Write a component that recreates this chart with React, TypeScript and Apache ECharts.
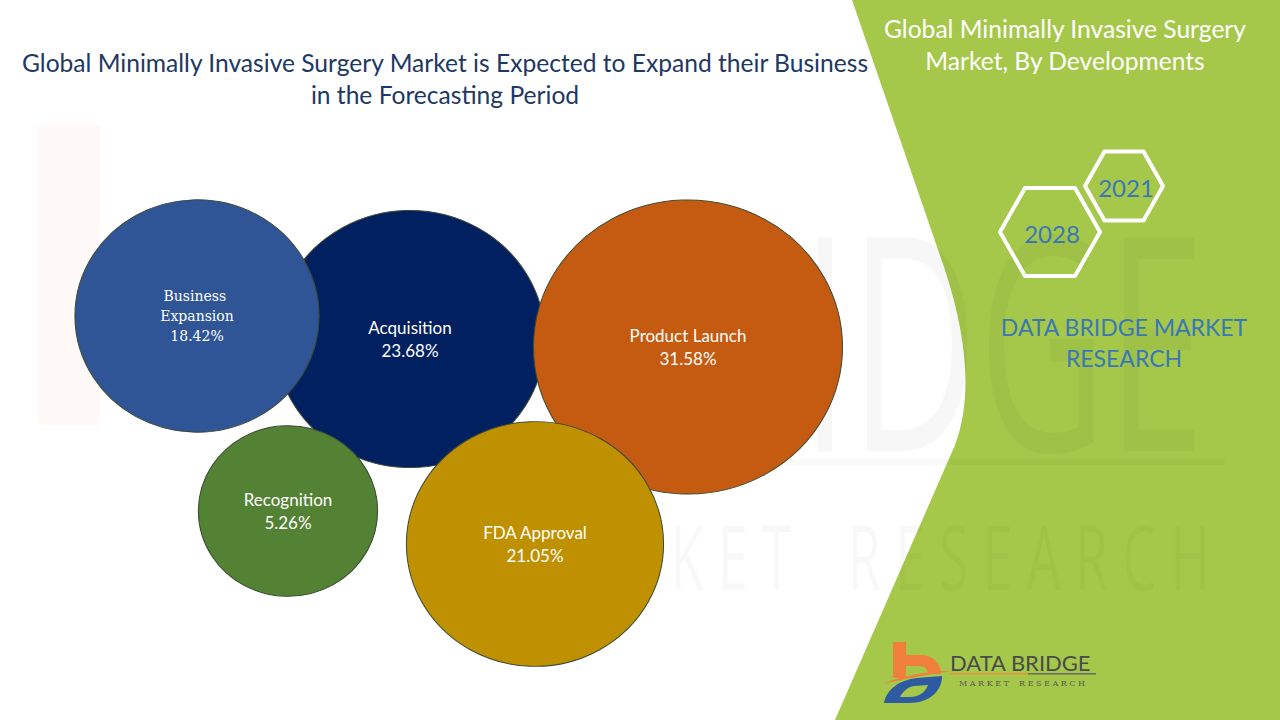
import React, { useEffect, useRef } from "react";
import * as echarts from "echarts";

// ---- data ----
const categories = ["Acquisition", "Business Expansion", "Product Launch", "Recognition", "FDA Approval"];
const shares = [23.68, 18.42, 31.58, 5.26, 21.05];
const xPos = [41.0, 19.7, 68.8, 28.8, 53.5];
const yPos = [38.1, 40.4, 37.3, 20.9, 17.6];
const colors = ["#002060", "#2F5597", "#C55A11", "#548235", "#BF9000"];
const years = ["2021", "2028"];
const titleLines = [
  "Global Minimally Invasive Surgery Market is Expected to Expand their Business",
  "in the Forecasting Period",
];
const sideTitle = ["Global Minimally Invasive Surgery", "Market, By Developments"];
const brandLines = ["DATA BRIDGE MARKET", "RESEARCH"];

function hexPoints(cx: number, cy: number, w: number, h: number) {
  return [
    [cx - w / 2, cy],
    [cx - w / 4, cy - h / 2],
    [cx + w / 4, cy - h / 2],
    [cx + w / 2, cy],
    [cx + w / 4, cy + h / 2],
    [cx - w / 4, cy + h / 2],
  ];
}

let registered = false;
function registerShapes() {
  if (registered) return;
  registered = true;
  echarts.graphic.registerShape(
    "panel",
    echarts.graphic.extendPath(
      "M852,0 L1280,0 L1280,720 L835,720 L955,445 C972,400 968,340 945,270 Z",
      {}
    )
  );
  echarts.graphic.registerShape(
    "logoB",
    echarts.graphic.extendPath(
      "M10,2 L23,2 L23,15 L38,15 C50,15 58,24 58,34 L45,34 C45,29 41,26 36,26 L23,26 L23,38 L10,38 Z",
      {}
    )
  );
  echarts.graphic.registerShape(
    "logoSwoosh",
    echarts.graphic.extendPath("M0,44 C20,35 45,31 70,31 C45,34 22,39 0,44 Z", {})
  );
  echarts.graphic.registerShape(
    "logoD",
    echarts.graphic.extendPath(
      "M1,63 C3,50 16,40 34,38 L59,36 C59,52 45,63 26,63 Z",
      {}
    )
  );
  echarts.graphic.registerShape(
    "logoDHole",
    echarts.graphic.extendPath("M17,57 L27,57 C37,57 43,51 45,45 L31,46 C25,47 20,51 17,57 Z", {})
  );
}

export default function App() {
  const ref = useRef<HTMLDivElement>(null);

  useEffect(() => {
    document.body.style.margin = "0";
    registerShapes();
    const chart = echarts.init(ref.current!, null, { renderer: "svg" });

    const sizeOf = (v: number) => 149.6 + 4.81 * v;

    const data = categories.map((name, i) => {
      const item: any = {
        name,
        value: [xPos[i], yPos[i], shares[i]],
        itemStyle: { color: colors[i] },
      };
      if (name === "Business Expansion") {
        item.label = {
          fontFamily: "DejaVu Serif",
          fontSize: 14,
          lineHeight: 20,
          width: 110,
          overflow: "break",
        };
      }
      return item;
    });

    const hexes = [
      { cx: 1124, cy: 186, w: 78, h: 69 },
      { cx: 1050, cy: 232, w: 100, h: 88 },
    ];

    const graphics: any[] = [
      // green panel
      { type: "panel", x: 0, y: 0, z: 0, style: { fill: "#A5C84A" }, silent: true },
      // watermark
      {
        type: "rect",
        z: 1,
        shape: { x: 38, y: 125, width: 62, height: 300 },
        style: { fill: "rgba(240,120,50,0.045)" },
        silent: true,
      },
      {
        type: "text",
        z: 1,
        x: 1205,
        y: 335,
        scaleX: 0.59,
        style: {
          text: "BRIDGE",
          fontFamily: "Open Sans",
          fontSize: 300,
          fill: "rgba(0,0,0,0.03)",
          align: "right",
          verticalAlign: "middle",
        },
        silent: true,
      },
      {
        type: "rect",
        z: 1,
        shape: { x: 765, y: 459, width: 460, height: 6 },
        style: { fill: "rgba(0,0,0,0.025)" },
        silent: true,
      },
      {
        type: "text",
        z: 1,
        x: 1210,
        y: 555,
        scaleX: 0.6,
        style: {
          text: "M A R K E T    R E S E A R C H",
          fontFamily: "Open Sans",
          fontSize: 90,
          fill: "rgba(0,0,0,0.028)",
          align: "right",
          verticalAlign: "middle",
        },
        silent: true,
      },
      // main title
      {
        type: "text",
        z: 5,
        x: 445,
        y: 78,
        style: {
          text: titleLines.join("\n"),
          fontFamily: "Lato",
          fontSize: 24.6,
          lineHeight: 32,
          fill: "#203864",
          align: "center",
          verticalAlign: "middle",
        },
      },
      // side title
      {
        type: "text",
        z: 5,
        x: 1065,
        y: 44,
        style: {
          text: sideTitle.join("\n"),
          fontFamily: "Lato",
          fontSize: 24.6,
          lineHeight: 32,
          fill: "#FFFFFF",
          align: "center",
          verticalAlign: "middle",
        },
      },
      // brand text
      {
        type: "text",
        z: 5,
        x: 1124,
        y: 342,
        style: {
          text: brandLines.join("\n"),
          fontFamily: "Lato",
          fontSize: 23,
          lineHeight: 31,
          fill: "#3A78B5",
          align: "center",
          verticalAlign: "middle",
        },
      },
    ];

    hexes.forEach((hx, i) => {
      graphics.push({
        type: "polygon",
        z: 5,
        shape: { points: hexPoints(hx.cx, hx.cy, hx.w, hx.h) },
        style: { fill: "none", stroke: "#FFFFFF", lineWidth: 4, lineJoin: "round" },
      });
      graphics.push({
        type: "text",
        z: 6,
        x: hx.cx + 2,
        y: hx.cy + 1,
        style: {
          text: years[i],
          fontFamily: "Lato",
          fontSize: 24,
          fill: "#3A78B5",
          align: "center",
          verticalAlign: "middle",
        },
      });
    });

    // bottom logo
    const lx = 883;
    const ly = 640;
    graphics.push(
      { type: "logoD", z: 6, x: lx, y: ly, style: { fill: "#2D5AA0" } },
      { type: "logoDHole", z: 6, x: lx, y: ly, style: { fill: "#A5C84A" } },
      { type: "logoB", z: 7, x: lx, y: ly, style: { fill: "#F07F3C" } },
      { type: "logoSwoosh", z: 7, x: lx, y: ly, style: { fill: "#F07F3C" } },
      {
        type: "text",
        z: 6,
        x: 950,
        y: 662,
        style: {
          text: "DATA BRIDGE",
          fontFamily: "Lato",
          fontSize: 22,
          fill: "#4A4A4A",
          align: "left",
          verticalAlign: "middle",
        },
      },
      {
        type: "rect",
        z: 6,
        shape: { x: 950, y: 673, width: 78, height: 1.5 },
        style: { fill: "#E8913E" },
      },
      {
        type: "rect",
        z: 6,
        shape: { x: 1028, y: 673, width: 68, height: 1.5 },
        style: { fill: "#6A6A6A" },
      },
      {
        type: "text",
        z: 6,
        x: 1022,
        y: 683,
        style: {
          text: "M A R K E T    R E S E A R C H",
          fontFamily: "DejaVu Serif",
          fontSize: 8,
          fill: "#5A5A5A",
          align: "center",
          verticalAlign: "middle",
        },
      }
    );

    chart.setOption({
      animation: false,
      backgroundColor: "#FFFFFF",
      grid: { left: 0, right: 0, top: 0, bottom: 0 },
      xAxis: { type: "value", min: 0, max: 128, show: false },
      yAxis: { type: "value", min: 0, max: 72, show: false },
      graphic: { elements: graphics },
      series: [
        {
          type: "scatter",
          z: 3,
          symbol: "circle",
          symbolSize: (val: number[]) => {
            const d = sizeOf(val[2]);
            return [d * 1.025, d / 1.025];
          },
          itemStyle: { borderColor: "#3E4A36", borderWidth: 1, opacity: 1 },
          label: {
            show: true,
            position: "inside",
            color: "#FFFFFF",
            fontFamily: "Lato",
            fontSize: 17,
            lineHeight: 23,
            formatter: (p: any) => `${p.name}\n${p.value[2].toFixed(2)}%`,
          },
          emphasis: { disabled: true },
          data,
        },
      ],
    });

    return () => chart.dispose();
  }, []);

  return (
    <div
      ref={ref}
      style={{ position: "fixed", left: 0, top: 0, width: 1280, height: 720 }}
    />
  );
}
